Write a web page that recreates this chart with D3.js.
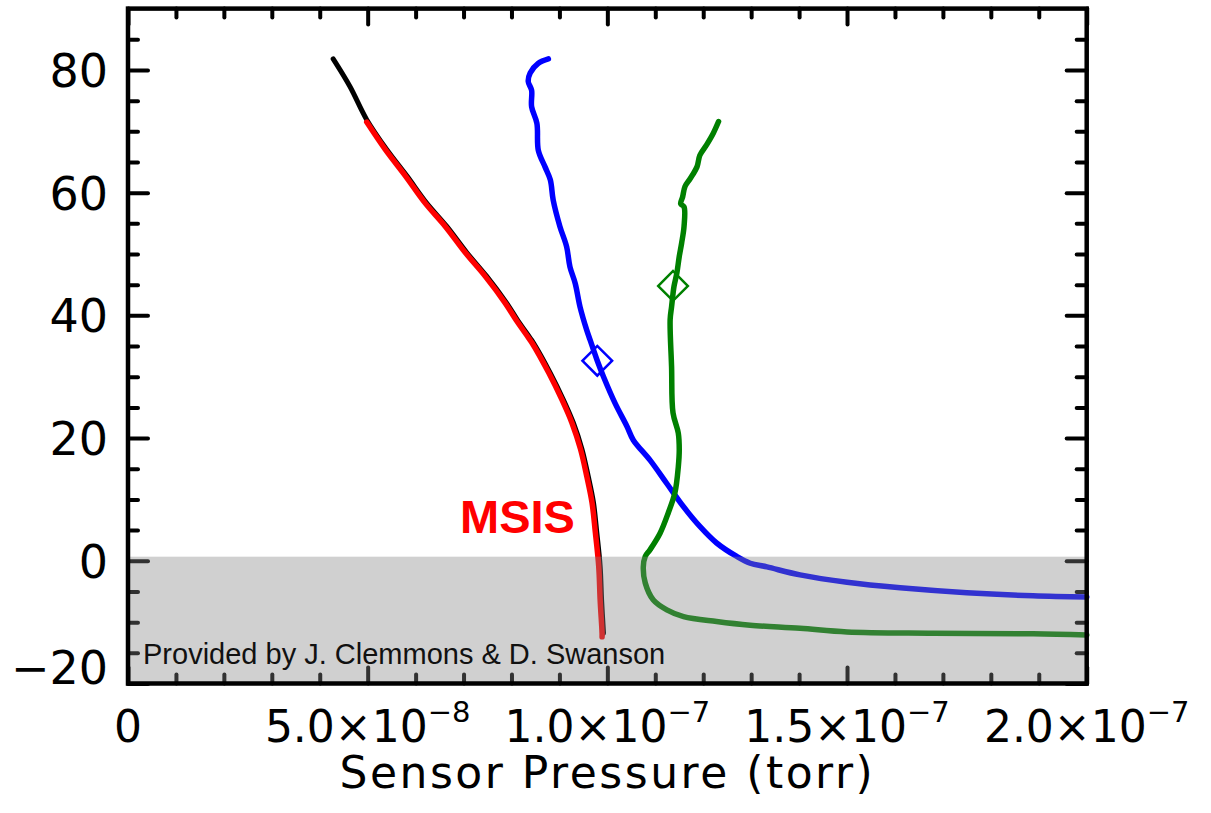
<!DOCTYPE html>
<html>
<head>
<meta charset="utf-8">
<script src="https://cdn.jsdelivr.net/npm/d3@7"></script>
<style>
body { margin: 0; background: #fff; }
</style>
</head>
<body>
<div id="chart"></div>
<script>
// 1: DATA (altitude in km, sensor pressure in torr)
const msisAlt  = [81.8, 77.3, 71.9, 67.0, 62.7, 58.3, 54.5, 50.2, 46.4, 42.0, 39.2, 36.3, 35.5, 30.6, 26.3, 22.5, 18.2, 13.8, 9.5, 4.6, -0.9, -6.4, -11.8];
const msisPres = [4.28e-8, 4.63e-8, 4.98e-8, 5.40e-8, 5.82e-8, 6.23e-8, 6.65e-8, 7.07e-8, 7.48e-8, 7.90e-8, 8.13e-8, 8.39e-8, 8.46e-8, 8.81e-8, 9.08e-8, 9.29e-8, 9.47e-8, 9.60e-8, 9.71e-8, 9.78e-8, 9.85e-8, 9.88e-8, 9.92e-8];

const redAlt  = [71.5, 67.0, 62.7, 58.3, 54.5, 50.2, 46.4, 42.0, 39.2, 36.3, 35.5, 30.6, 26.3, 22.5, 18.2, 13.8, 9.5, 4.6, -0.9, -6.4, -11.8, -12.4];
const redPres = [4.98e-8, 5.37e-8, 5.79e-8, 6.20e-8, 6.62e-8, 7.04e-8, 7.45e-8, 7.87e-8, 8.10e-8, 8.36e-8, 8.43e-8, 8.78e-8, 9.05e-8, 9.26e-8, 9.44e-8, 9.57e-8, 9.68e-8, 9.75e-8, 9.82e-8, 9.85e-8, 9.89e-8, 9.89e-8];

const blueAlt  = [81.8, 81.1, 79.5, 78.1, 76.7, 74.0, 71.3, 66.9, 64.2, 62.1, 58.8, 54.5, 51.2, 47.9, 45.2, 41.4, 37.6, 36.0, 32.6, 30.0, 25.7, 21.9, 19.7, 16.4, 12.6, 8.8, 5.6, 2.9, 0.7, -0.4, -1.0, -2.3, -3.5, -4.4, -5.2, -5.7, -5.9];
const bluePres = [8.77e-8, 8.56e-8, 8.39e-8, 8.35e-8, 8.42e-8, 8.42e-8, 8.53e-8, 8.56e-8, 8.70e-8, 8.81e-8, 8.87e-8, 9.01e-8, 9.15e-8, 9.22e-8, 9.33e-8, 9.43e-8, 9.57e-8, 9.64e-8, 9.79e-8, 9.92e-8, 10.16e-8, 10.41e-8, 10.54e-8, 10.89e-8, 11.24e-8, 11.59e-8, 11.93e-8, 12.28e-8, 12.70e-8, 12.98e-8, 13.33e-8, 14.02e-8, 15.00e-8, 16.11e-8, 17.50e-8, 18.88e-8, 20.00e-8];

const greenAlt  = [71.6, 69.7, 67.8, 66.1, 64.2, 62.3, 61.0, 59.3, 58.2, 57.7, 54.5, 51.8, 49.6, 46.9, 44.7, 41.4, 39.3, 31.6, 24.1, 20.8, 18.1, 15.3, 11.1, 7.8, 4.5, 1.8, 0.7, -1.0, -3.6, -6.4, -8.0, -9.1, -9.9, -10.5, -11.0, -11.6, -11.8, -11.9, -12.1];
const greenPres = [12.32e-8, 12.21e-8, 12.07e-8, 11.93e-8, 11.87e-8, 11.73e-8, 11.62e-8, 11.57e-8, 11.53e-8, 11.60e-8, 11.60e-8, 11.55e-8, 11.50e-8, 11.45e-8, 11.39e-8, 11.34e-8, 11.31e-8, 11.34e-8, 11.37e-8, 11.48e-8, 11.50e-8, 11.48e-8, 11.41e-8, 11.27e-8, 11.10e-8, 10.89e-8, 10.79e-8, 10.75e-8, 10.79e-8, 10.96e-8, 11.24e-8, 11.59e-8, 12.28e-8, 12.98e-8, 14.02e-8, 15.00e-8, 16.80e-8, 18.88e-8, 20.00e-8];

// diamond markers [pressure, altitude]
const markers = [
    { pres: 9.79e-8, alt: 32.6, color: "#0000ff" },
    { pres: 11.37e-8, alt: 44.8, color: "#008000" }
];

// shaded band (altitude range)
const shadeRange = [-20, 0.67];

const xTicksMajor = [0, 5e-8, 1e-7, 1.5e-7, 2e-7];
const yTicksMajor = [-20, 0, 20, 40, 60, 80];

// 2: SETUP
const W = 1211, H = 813;
const margin = { top: 8.6, right: 124.3, bottom: 129.5, left: 128 };
const width = W - margin.left - margin.right;
const height = H - margin.top - margin.bottom;

const svg = d3.select("#chart")
    .append("svg")
    .attr("width", W)
    .attr("height", H)
    .append("g")
    .attr("transform", `translate(${margin.left},${margin.top})`);

const x = d3.scaleLinear().domain([0, 2e-7]).range([0, width]);
const y = d3.scaleLinear().domain([-20, 90]).range([height, 0]);

const line = d3.line()
    .x(d => x(d[0]))
    .y(d => y(d[1]))
    .curve(d3.curveCatmullRom.alpha(0.5));

// 3: LINES
function drawLine(pres, alt, color, w) {
    svg.append("path")
        .datum(d3.zip(pres, alt))
        .attr("fill", "none")
        .attr("stroke", color)
        .attr("stroke-width", w)
        .attr("stroke-linejoin", "round")
        .attr("stroke-linecap", "round")
        .attr("d", line);
}
drawLine(msisPres, msisAlt, "#000", 5);
drawLine(redPres, redAlt, "#ff0000", 5.5);
drawLine(bluePres, blueAlt, "#0000ff", 5.5);
drawLine(greenPres, greenAlt, "#008000", 5.5);

// diamonds
svg.selectAll(".marker")
    .data(markers)
    .enter().append("path")
    .attr("class", "marker")
    .attr("d", d3.symbol(d3.symbolSquare, 440))
    .attr("transform", d => `translate(${x(d.pres)},${y(d.alt)}) rotate(45)`)
    .attr("fill", "none")
    .attr("stroke", d => d.color)
    .attr("stroke-width", 2.5);

// 4: TICKS (inward, all four sides)
function tickStyle(g) {
    g.select(".domain").remove();
    g.selectAll("line")
        .attr("stroke", "#000")
        .attr("stroke-width", 4)
        .attr("stroke-linecap", "round");
    g.selectAll("text").remove();
}
const xMinor = d3.range(0, 21).map(i => i * 1e-8).filter(v => !xTicksMajor.includes(+v.toFixed(10)));
const yMinor = d3.range(-20, 91, 5).filter(v => !yTicksMajor.includes(v) && v !== 90);

svg.append("g").attr("transform", `translate(0,${height})`)
    .call(d3.axisBottom(x).tickValues(xTicksMajor).tickSize(-16)).call(tickStyle);
svg.append("g").attr("transform", `translate(0,${height})`)
    .call(d3.axisBottom(x).tickValues(xMinor).tickSize(-9)).call(tickStyle);
svg.append("g")
    .call(d3.axisTop(x).tickValues(xTicksMajor).tickSize(-16)).call(tickStyle);
svg.append("g")
    .call(d3.axisTop(x).tickValues(xMinor).tickSize(-9)).call(tickStyle);
svg.append("g")
    .call(d3.axisLeft(y).tickValues(yTicksMajor).tickSize(-20)).call(tickStyle);
svg.append("g")
    .call(d3.axisLeft(y).tickValues(yMinor).tickSize(-10)).call(tickStyle);
svg.append("g").attr("transform", `translate(${width},0)`)
    .call(d3.axisRight(y).tickValues(yTicksMajor).tickSize(-20)).call(tickStyle);
svg.append("g").attr("transform", `translate(${width},0)`)
    .call(d3.axisRight(y).tickValues(yMinor).tickSize(-10)).call(tickStyle);

// 5: GREY SHADE (translucent, over lines and ticks)
svg.append("rect")
    .attr("x", x(0))
    .attr("y", y(shadeRange[1]))
    .attr("width", x(2e-7) - x(0))
    .attr("height", y(shadeRange[0]) - y(shadeRange[1]))
    .attr("fill", "#848484")
    .attr("fill-opacity", 0.38);

// frame
svg.append("rect")
    .attr("width", width)
    .attr("height", height)
    .attr("fill", "none")
    .attr("stroke", "#000")
    .attr("stroke-width", 4.5);

// 6: TICK LABELS
svg.append("g")
    .call(d3.axisLeft(y).tickValues(yTicksMajor).tickSize(0).tickPadding(20))
    .call(g => g.select(".domain").remove())
    .selectAll("text")
    .attr("font-family", "DejaVu Sans")
    .attr("font-size", 46)
    .attr("fill", "#000")
    .attr("dy", d => d === -20 ? "0em" : "0.36em");

const xLab = svg.append("g").selectAll("text")
    .data(xTicksMajor)
    .enter().append("text")
    .attr("x", d => x(d))
    .attr("y", height + 59)
    .attr("text-anchor", "middle")
    .attr("font-family", "DejaVu Sans")
    .attr("font-size", 44)
    .attr("fill", "#000");

xLab.each(function(d) {
    const t = d3.select(this);
    if (d === 0) { t.text("0"); return; }
    const e = Math.floor(Math.log10(d));
    const m = d / Math.pow(10, e);
    t.append("tspan").text(m.toFixed(1) + "×10");
    t.append("tspan").attr("font-size", 29).attr("dy", -20).text("−" + Math.abs(e));
});

// 7: TITLES AND NOTES
svg.append("text")
    .attr("x", width / 2)
    .attr("y", height + 105)
    .attr("text-anchor", "middle")
    .attr("font-family", "DejaVu Sans")
    .attr("font-size", 44)
    .attr("letter-spacing", 2.5)
    .text("Sensor Pressure (torr)");

svg.append("text")
    .attr("x", 460 - margin.left)
    .attr("y", 533 - margin.top)
    .attr("font-family", "Liberation Sans, Arial, sans-serif")
    .attr("font-weight", "bold")
    .attr("font-size", 47)
    .attr("fill", "#ff0000")
    .text("MSIS");

svg.append("text")
    .attr("x", 143 - margin.left)
    .attr("y", 664 - margin.top)
    .attr("font-family", "Liberation Sans, Arial, sans-serif")
    .attr("font-size", 29)
    .attr("fill", "#111")
    .text("Provided by J. Clemmons & D. Swanson");
</script>
</body>
</html>
